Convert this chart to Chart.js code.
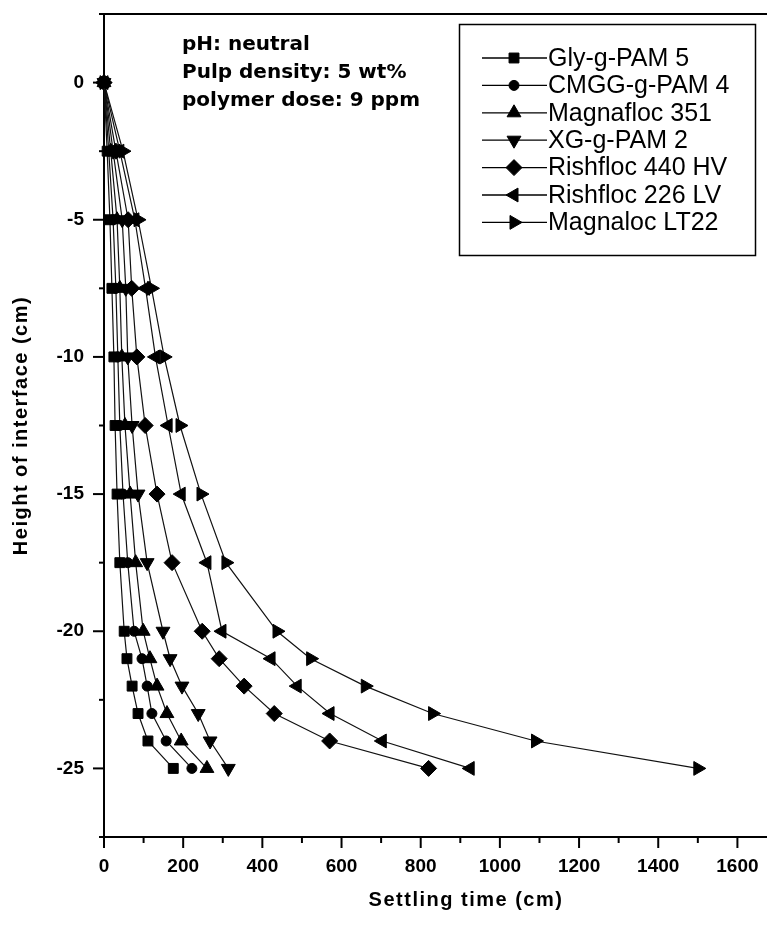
<!DOCTYPE html>
<html><head><meta charset="utf-8">
<script src="https://cdn.jsdelivr.net/npm/chart.js@4/dist/chart.umd.min.js"></script>
<style>
html,body{margin:0;padding:0;background:#fff;overflow:hidden;width:767px;height:925px}
#wrap{position:relative;width:800px;height:925px}
</style>
</head><body><div id="wrap"><canvas id="c" width="800" height="925"></canvas></div>
<script>
// ---- data ----
const heights = [0, -2.5, -5, -7.5, -10, -12.5, -15, -17.5, -20, -21, -22, -23, -24, -25];
const glyPAM5      = [0, 8, 15, 20, 25, 28, 33, 40, 51, 58, 71, 86, 111, 175];
const cmggPAM4     = [0, 12, 23, 30, 35, 40, 48, 60, 76, 96, 109, 121, 157, 222];
const magnafloc351 = [0, 17, 33, 40, 45, 53, 66, 80, 99, 116, 134, 159, 195, 260];
const xgPAM2       = [0, 23, 46, 55, 60, 71, 86, 109, 149, 167, 197, 238, 268, 314];
const rishfloc440  = [0, 30, 61, 70, 83, 104, 134, 172, 248, 291, 354, 430, 570, 820];
const rishfloc226  = [0, 40, 78, 105, 130, 162, 195, 260, 298, 422, 488, 571, 703, 925];
const magnalocLT22 = [0, 48, 86, 120, 152, 192, 245, 308, 437, 522, 660, 830, 1090, 1500];
const seriesNames = ['Gly-g-PAM 5', 'CMGG-g-PAM 4', 'Magnafloc 351', 'XG-g-PAM 2', 'Rishfloc 440 HV', 'Rishfloc 226 LV', 'Magnaloc LT22'];
const xMajorTicks = [0, 200, 400, 600, 800, 1000, 1200, 1400, 1600];
const xMinorTicks = [100, 300, 500, 700, 900, 1100, 1300, 1500, 1700];
const yMajorTicks = [0, -5, -10, -15, -20, -25];
const yMinorTicks = [2.5, -2.5, -7.5, -12.5, -17.5, -22.5, -27.5];
const notes = ['pH: neutral', 'Pulp density: 5 wt%', 'polymer dose: 9 ppm'];
const xTitle = 'Settling time (cm)';
const yTitle = 'Height of interface (cm)';

const seriesValues = [glyPAM5, cmggPAM4, magnafloc351, xgPAM2, rishfloc440, rishfloc226, magnalocLT22];
const markers = [
  {style: 'rect', rot: 0, r: 7},
  {style: 'circle', rot: 0, r: 5},
  {style: 'triangle', rot: 0, r: 8},
  {style: 'triangle', rot: 180, r: 8},
  {style: 'rectRot', rot: 0, r: 8},
  {style: 'triangle', rot: 270, r: 8},
  {style: 'triangle', rot: 90, r: 8}
];

const datasets = seriesValues.map((vals, i) => ({
  label: seriesNames[i],
  data: vals.map((v, j) => ({x: v, y: heights[j]})),
  borderColor: '#111',
  borderWidth: 1.2,
  backgroundColor: '#000',
  pointStyle: markers[i].style,
  pointRotation: markers[i].rot,
  pointRadius: markers[i].r,
  pointHoverRadius: markers[i].r,
  pointBackgroundColor: '#000',
  pointBorderColor: '#000',
  pointBorderWidth: 1,
  tension: 0,
  clip: false
}));

function seg(ctx, x1, y1, x2, y2) { ctx.beginPath(); ctx.moveTo(x1, y1); ctx.lineTo(x2, y2); ctx.stroke(); }

const decor = {
  id: 'decor',
  afterDraw(chart) {
    const {ctx, chartArea: a} = chart;
    const x = chart.scales.x, y = chart.scales.y;
    ctx.save();
    ctx.strokeStyle = '#000';
    ctx.fillStyle = '#000';
    ctx.lineWidth = 2;
    seg(ctx, a.left - 1, a.top, a.right, a.top);
    xMajorTicks.forEach(v => { const p = x.getPixelForValue(v); seg(ctx, p, a.bottom, p, a.bottom + 11); });
    xMinorTicks.forEach(v => { const p = x.getPixelForValue(v); seg(ctx, p, a.bottom, p, a.bottom + 6); });
    yMajorTicks.forEach(v => { const p = y.getPixelForValue(v); seg(ctx, a.left - 11, p, a.left, p); });
    yMinorTicks.forEach(v => { const p = y.getPixelForValue(v); seg(ctx, a.left - 5, p, a.left, p); });

    // notes
    ctx.font = 'bold 20px "DejaVu Sans"';
    ctx.textAlign = 'left';
    ctx.textBaseline = 'middle';
    notes.forEach((t, i) => ctx.fillText(t, 182, 45 + i * 28));

    // legend
    ctx.lineWidth = 1.5;
    ctx.strokeRect(459.5, 24.5, 296, 231);
    ctx.font = '25px "Liberation Sans", Arial';
    chart.data.datasets.forEach((ds, i) => {
      const cy = 58 + i * 27.4;
      ctx.lineWidth = 1.3;
      seg(ctx, 482, cy, 547, cy);
      ctx.lineWidth = 1;
      Chart.helpers.drawPoint(ctx, {pointStyle: ds.pointStyle, rotation: ds.pointRotation, radius: ds.pointRadius, borderWidth: 1}, 514, cy);
      ctx.fillText(ds.label, 548, cy + 1);
    });

    // axis titles
    ctx.font = 'bold 20px "Liberation Sans", Arial';
    ctx.letterSpacing = '1.5px';
    ctx.textAlign = 'center';
    ctx.fillText(xTitle, 466, 900);
    ctx.save();
    ctx.translate(21, (a.top + a.bottom) / 2);
    ctx.rotate(-Math.PI / 2);
    ctx.fillText(yTitle, 0, 0);
    ctx.restore();
    ctx.restore();
  }
};

const tickFont = {family: '"Liberation Sans", Arial', size: 19, weight: 'bold'};

new Chart(document.getElementById('c'), {
  type: 'line',
  data: {datasets},
  options: {
    responsive: false,
    animation: false,
    events: [],
    layout: {padding: {left: 0, top: 14, right: 23, bottom: 0}},
    plugins: {legend: {display: false}, tooltip: {enabled: false}, title: {display: false}},
    scales: {
      x: {
        type: 'linear', min: 0, max: 1700,
        afterBuildTicks: s => { s.ticks = xMajorTicks.map(v => ({value: v})); },
        afterFit: s => { s.height = 88; s.paddingLeft = 0; s.paddingRight = 0; },
        grid: {display: false, drawTicks: true, tickLength: 11},
        border: {display: true, color: '#000', width: 2},
        ticks: {color: '#000', font: tickFont, padding: 7, maxRotation: 0, autoSkip: false, callback: v => String(v)}
      },
      y: {
        type: 'linear', min: -27.5, max: 2.5,
        afterBuildTicks: s => { s.ticks = yMajorTicks.map(v => ({value: v})); },
        afterFit: s => { s.width = 104; s.paddingTop = 0; s.paddingBottom = 0; },
        grid: {display: false, drawTicks: true, tickLength: 11},
        border: {display: true, color: '#000', width: 2},
        ticks: {color: '#000', font: tickFont, padding: 9, autoSkip: false, callback: v => String(v)}
      }
    }
  },
  plugins: [decor]
});
</script>
</body></html>
